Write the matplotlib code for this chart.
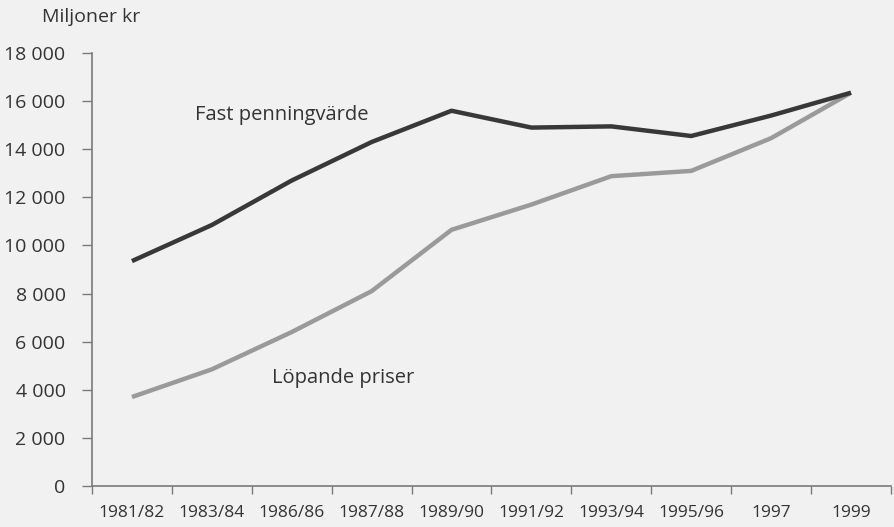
import numpy as np
import matplotlib
matplotlib.use("Agg")
from matplotlib import pyplot as plt

# Categories and series (miljoner kr)
years = ["1981/82", "1983/84", "1986/86", "1987/88", "1989/90",
         "1991/92", "1993/94", "1995/96", "1997", "1999"]
fast_penningvarde = [9350, 10850, 12700, 14300, 15600, 14900, 14950, 14550, 15400, 16350]
lopande_priser = [3700, 4850, 6400, 8100, 10650, 11700, 12880, 13100, 14460, 16350]
y_ticks = list(range(0, 18001, 2000))

plt.rcParams['font.family'] = ['Open Sans', 'DejaVu Sans']
bg = "#f1f1f1"
axis_col = "#7a7a7a"
text_col = "#333333"

fig = plt.figure(figsize=(8.94, 5.27), dpi=100, facecolor=bg)
ax = fig.add_axes([0.1029, 0.0778, 0.8937, 0.8216], facecolor=bg)

x = np.arange(len(years))
ax.plot(x, lopande_priser, color="#9a9a9a", lw=3.2, solid_capstyle="butt", zorder=2)
ax.plot(x, fast_penningvarde, color="#383838", lw=3.2, solid_capstyle="butt", zorder=3)

ax.set_xlim(-0.5, len(years) - 0.5)
ax.set_ylim(0, 18000)

# tick marks on category boundaries, labels at centres
ax.set_xticks(np.arange(-0.5, len(years), 1))
ax.set_xticklabels([])
ax.set_xticks(x, minor=True)
ax.set_xticklabels(years, minor=True)
ax.tick_params(axis="x", which="major", length=6, width=1, color=axis_col, direction="out")
ax.tick_params(axis="x", which="minor", length=0, pad=14, labelsize=12.5, labelcolor=text_col)

ax.set_yticks(y_ticks)
ax.set_yticklabels([f"{v:,}".replace(",", " ") for v in y_ticks])
ax.tick_params(axis="y", length=7, width=1, color=axis_col, pad=12,
               labelsize=14, labelcolor=text_col)

for s in ["top", "right"]:
    ax.spines[s].set_visible(False)
for s in ["left", "bottom"]:
    ax.spines[s].set_color(axis_col)
    ax.spines[s].set_linewidth(1.2)

fig.text(42 / 894, 1 - 17 / 527, "Miljoner kr", fontsize=14, color=text_col,
         ha="left", va="center")
ax.text(0.79, 15420, "Fast penningvärde", fontsize=14.5, color=text_col, ha="left", va="center")
ax.text(1.75, 4490, "Löpande priser", fontsize=14.5, color=text_col, ha="left", va="center")

fig.savefig("out.png", dpi=100, facecolor=bg)
